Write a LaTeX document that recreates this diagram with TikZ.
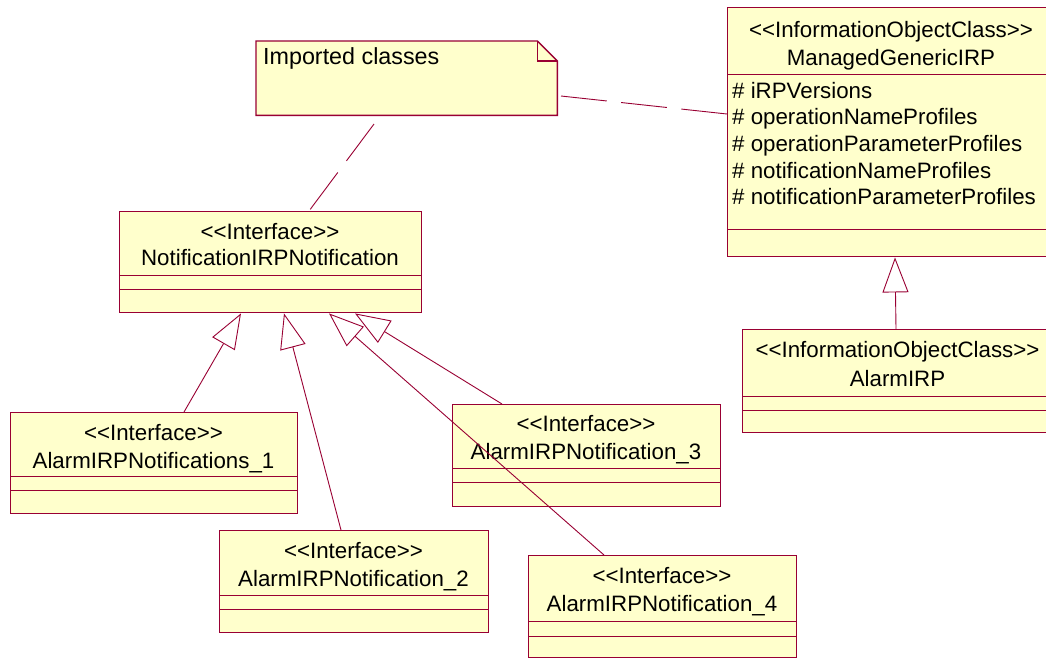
\documentclass[tikz,border=0pt]{standalone}
\usepackage{fontspec}
\setmainfont{Liberation Sans}
\usetikzlibrary{arrows.meta}
\definecolor{umlline}{HTML}{990033}
\definecolor{umlfill}{HTML}{FFFFCC}
\begin{document}
\begin{tikzpicture}[x=1pt,y=-1pt,
  umlbox/.style={draw=umlline, fill=umlfill, line width=1.4pt, rectangle, anchor=north west, inner sep=0pt},
  divider/.style={draw=umlline, line width=0.8pt},
  txt/.style={font=\fontsize{22.3}{26}\selectfont, inner sep=0pt, text height=16pt, text depth=0pt},
  attr/.style={txt, anchor=west},
  gen/.style={draw=umlline, line width=0.9pt, -{Triangle[open, length=35pt, width=26pt]}},
  notelink/.style={draw=umlline, line width=0.9pt, dash pattern=on 46pt off 14.5pt},
  notebox/.style={draw=umlline, fill=umlfill, line width=1.4pt, line join=miter},
]
\clip (0,0) rectangle (1046,657);
\fill[white] (0,0) rectangle (1046,657);

% ---------- note ----------
\node[draw=none, minimum width=301pt, minimum height=74pt, anchor=north west, inner sep=0pt] (note) at (256,41) {};
\path[notebox] (note.north west) -- ([xshift=-20pt]note.north east) -- ([yshift=-20pt]note.north east)
  -- (note.south east) -- (note.south west) -- cycle;
\draw[umlline, line width=1.2pt] ([xshift=-20pt]note.north east) -- ([xshift=-20pt,yshift=-20pt]note.north east) -- ([yshift=-20pt]note.north east);
\node[attr, font=\fontsize{23.3}{26}\selectfont] (notetext) at (263,56.5) {Imported classes};

% ---------- ManagedGenericIRP ----------
\node[umlbox, minimum width=332pt, minimum height=249pt] (mg) at (727,7) {};
\draw[divider] ([yshift=-67pt]mg.north west) -- ([yshift=-67pt]mg.north east);
\draw[divider] ([yshift=-222pt]mg.north west) -- ([yshift=-222pt]mg.north east);
\node[txt] (mg-s) at (891,29) {<{}<InformationObjectClass>{}>};
\node[txt] (mg-n) at (891,57.5) {ManagedGenericIRP};
\node[attr] (mg-a1) at (732,90) {\# iRPVersions};
\node[attr] (mg-a2) at (732,116.7) {\# operationNameProfiles};
\node[attr] (mg-a3) at (732,143.3) {\# operationParameterProfiles};
\node[attr] (mg-a4) at (732,170) {\# notificationNameProfiles};
\node[attr] (mg-a5) at (732,196.7) {\# notificationParameterProfiles};

% ---------- AlarmIRP ----------
\node[umlbox, minimum width=311pt, minimum height=103pt] (air) at (742,329) {};
\draw[divider] ([yshift=-67pt]air.north west) -- ([yshift=-67pt]air.north east);
\draw[divider] ([yshift=-81pt]air.north west) -- ([yshift=-81pt]air.north east);
\node[txt] (air-s) at (897.5,349) {<{}<InformationObjectClass>{}>};
\node[txt] (air-n) at (897.5,378) {AlarmIRP};

% ---------- NotificationIRPNotification ----------
\node[umlbox, minimum width=302pt, minimum height=101pt] (nirp) at (119,211) {};
\draw[divider] ([yshift=-64pt]nirp.north west) -- ([yshift=-64pt]nirp.north east);
\draw[divider] ([yshift=-78pt]nirp.north west) -- ([yshift=-78pt]nirp.north east);
\node[txt] (nirp-s) at (270,231) {<{}<Interface>{}>};
\node[txt] (nirp-n) at (270,257.5) {NotificationIRPNotification};

% ---------- AlarmIRPNotifications_1 ----------
\node[umlbox, minimum width=287pt, minimum height=101pt] (b1) at (10,412) {};
\draw[divider] ([yshift=-64pt]b1.north west) -- ([yshift=-64pt]b1.north east);
\draw[divider] ([yshift=-78pt]b1.north west) -- ([yshift=-78pt]b1.north east);
\node[txt] (b1-s) at (153.5,432.5) {<{}<Interface>{}>};
\node[txt] (b1-n) at (153.5,460) {AlarmIRPNotifications\_1};

% ---------- AlarmIRPNotification_3 ----------
\node[umlbox, minimum width=268pt, minimum height=102pt] (b3) at (452,404) {};
\draw[divider] ([yshift=-64pt]b3.north west) -- ([yshift=-64pt]b3.north east);
\draw[divider] ([yshift=-78pt]b3.north west) -- ([yshift=-78pt]b3.north east);
\node[txt] (b3-s) at (586,423.5) {<{}<Interface>{}>};
\node[txt] (b3-n) at (586,451.5) {AlarmIRPNotification\_3};

% ---------- AlarmIRPNotification_2 ----------
\node[umlbox, minimum width=269pt, minimum height=102pt] (b2) at (219,530) {};
\draw[divider] ([yshift=-65pt]b2.north west) -- ([yshift=-65pt]b2.north east);
\draw[divider] ([yshift=-79pt]b2.north west) -- ([yshift=-79pt]b2.north east);
\node[txt] (b2-s) at (353.5,550) {<{}<Interface>{}>};
\node[txt] (b2-n) at (353.5,578) {AlarmIRPNotification\_2};

% ---------- AlarmIRPNotification_4 ----------
\node[umlbox, minimum width=268pt, minimum height=102pt] (b4) at (528,555) {};
\draw[divider] ([yshift=-66.5pt]b4.north west) -- ([yshift=-66.5pt]b4.north east);
\draw[divider] ([yshift=-81pt]b4.north west) -- ([yshift=-81pt]b4.north east);
\node[txt] (b4-s) at (662,575.5) {<{}<Interface>{}>};
\node[txt] (b4-n) at (662,603.5) {AlarmIRPNotification\_4};

% ---------- attachment points ----------
\coordinate (t1) at ([xshift=122pt]nirp.south west);
\coordinate (t2) at ([xshift=165pt]nirp.south west);
\coordinate (t3) at ([xshift=210pt]nirp.south west);
\coordinate (t4) at ([xshift=236pt]nirp.south west);
\coordinate (c1) at ([xshift=174pt]b1.north west);
\coordinate (c2) at ([xshift=122pt]b2.north west);
\coordinate (c3) at ([xshift=50pt]b3.north west);
\coordinate (c4) at ([xshift=76pt]b4.north west);
\coordinate (tm) at ([xshift=168pt]mg.south west);
\coordinate (ca) at ([xshift=154pt]air.north west);
\coordinate (nl1) at (374,124);
\coordinate (nl2) at ([xshift=190pt]nirp.north west);
\coordinate (nr1) at (561,96);
\coordinate (nr2) at ([yshift=-107pt]mg.north west);

% ---------- connectors ----------
\draw[gen] (c1) -- (t1);
\draw[gen] (c2) -- (t2);
\draw[gen] (c4) -- (t3);
\draw[gen] (c3) -- (t4);
\draw[gen] (ca) -- (tm);
\draw[notelink] (nl1) -- (nl2);
\draw[notelink] (nr1) -- (nr2);
\end{tikzpicture}
\end{document}
